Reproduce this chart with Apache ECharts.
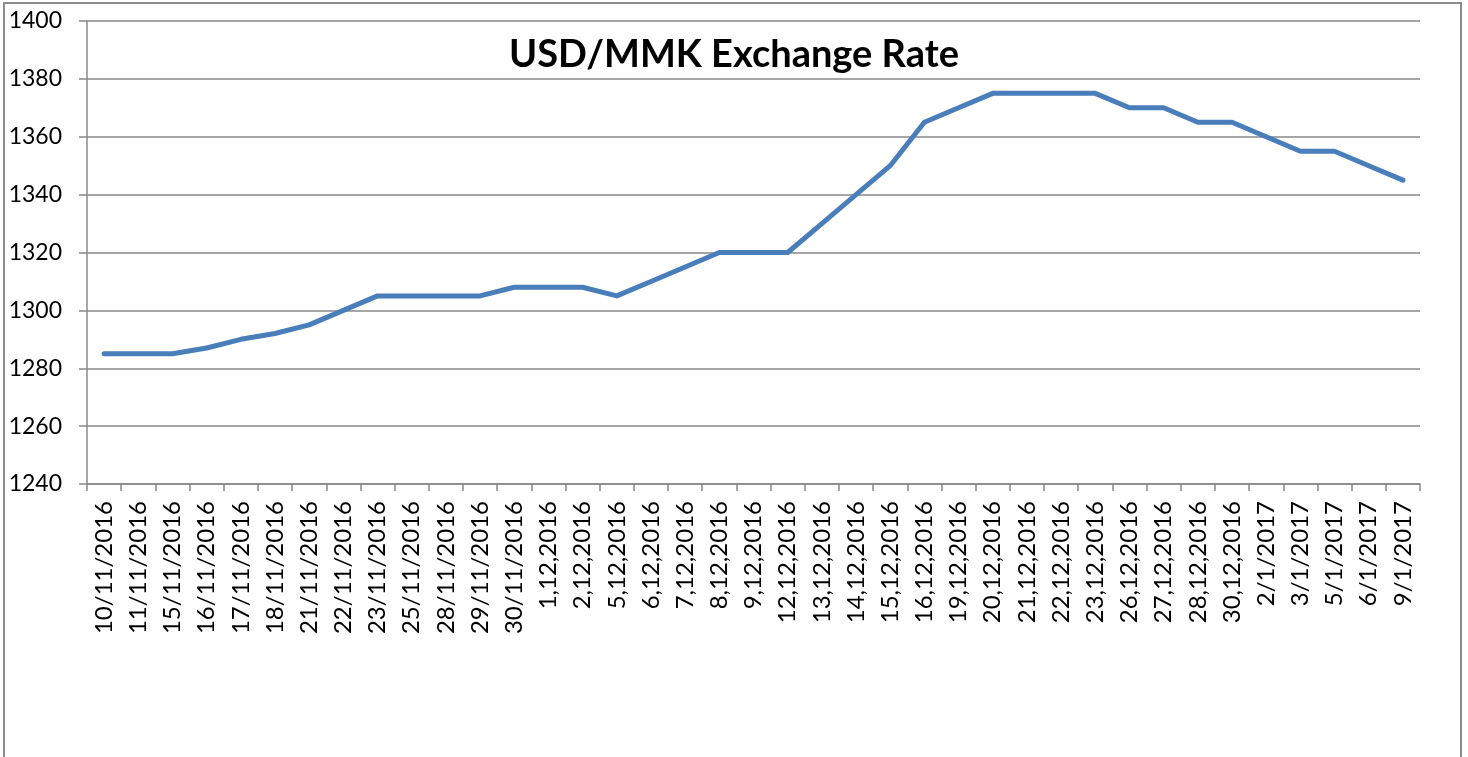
<!DOCTYPE html>
<html>
<head>
<meta charset="utf-8">
<script src="https://cdn.jsdelivr.net/npm/echarts@6/dist/echarts.min.js"></script>
<style>
html,body{margin:0;padding:0;background:#fff;}
#chart{width:1468px;height:757px;}
</style>
</head>
<body>
<div id="chart"></div>
<script>
const categories = ["10/11/2016","11/11/2016","15/11/2016","16/11/2016","17/11/2016","18/11/2016","21/11/2016","22/11/2016","23/11/2016","25/11/2016","28/11/2016","29/11/2016","30/11/2016","1,12,2016","2,12,2016","5,12,2016","6,12,2016","7,12,2016","8,12,2016","9,12,2016","12,12,2016","13,12,2016","14,12,2016","15,12,2016","16,12,2016","19,12,2016","20,12,2016","21,12,2016","22,12,2016","23,12,2016","26,12,2016","27,12,2016","28,12,2016","30,12,2016","2/1/2017","3/1/2017","5/1/2017","6/1/2017","9/1/2017"];
const rates = [1285,1285,1285,1287,1290,1292,1295,1300,1305,1305,1305,1305,1308,1308,1308,1305,1310,1315,1320,1320,1320,1330,1340,1350,1365,1370,1375,1375,1375,1375,1370,1370,1365,1365,1360,1355,1355,1350,1345];
const titleText = "USD/MMK Exchange Rate";
const yMin = 1240, yMax = 1400, yStep = 20;

const chart = echarts.init(document.getElementById('chart'));
const FONT = 'Lato';
chart.setOption({
  animation: false,
  backgroundColor: '#fff',
  graphic: [{
    type: 'rect',
    shape: {x: 4, y: 3, width: 1457, height: 800},
    style: {fill: 'none', stroke: '#8c8c8c', lineWidth: 2},
    z: 100
  }],
  title: {
    text: titleText,
    left: 'center',
    top: 31,
    textStyle: {fontFamily: FONT, fontWeight: 'bold', fontSize: 38, color: '#000'}
  },
  grid: {left: 87, right: 48, top: 21, bottom: 273, containLabel: false},
  xAxis: {
    type: 'category',
    data: categories,
    boundaryGap: true,
    axisLine: {show: true, lineStyle: {color: '#888', width: 1.5}},
    axisTick: {show: true, alignWithLabel: false, length: 7, lineStyle: {color: '#888', width: 1.5}},
    axisLabel: {interval: 0, rotate: 90, margin: 17, fontFamily: FONT, fontSize: 24, color: '#000'},
    splitLine: {show: false}
  },
  yAxis: {
    type: 'value',
    min: yMin, max: yMax, interval: yStep,
    axisLine: {show: true, lineStyle: {color: '#888', width: 1.5}},
    axisTick: {show: true, length: 8, lineStyle: {color: '#888', width: 1.5}},
    axisLabel: {margin: 25, fontFamily: FONT, fontSize: 23, color: '#000', formatter: function (v) { return String(v); }},
    splitLine: {show: true, lineStyle: {color: '#888', width: 1.5}}
  },
  series: [{
    type: 'line',
    data: rates,
    showSymbol: false,
    symbol: 'none',
    lineStyle: {color: '#4a7ebb', width: 5, cap: 'round', join: 'round'},
    itemStyle: {color: '#4a7ebb'}
  }]
});
</script>
</body>
</html>
